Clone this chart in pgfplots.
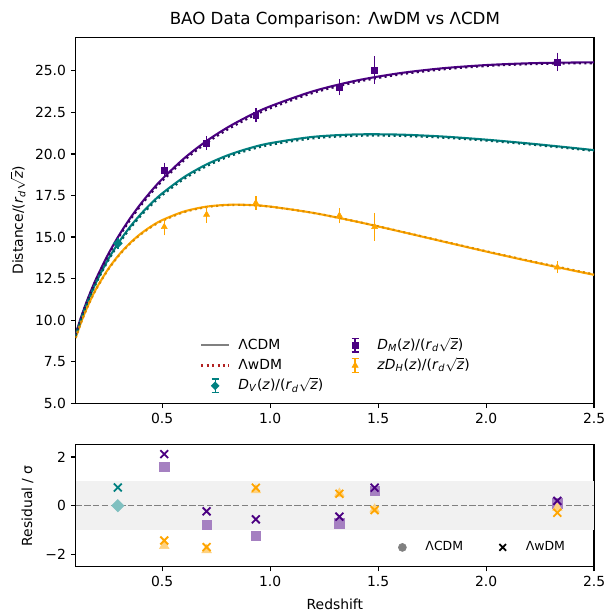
\documentclass[border=0pt]{standalone}
\usepackage{fontspec}
\setmainfont{DejaVu Sans}
\usepackage{pgfplots}
\usepackage{pgfplotstable}
\pgfplotsset{compat=1.18}
\definecolor{cind}{HTML}{4B0082}
\definecolor{cteal}{HTML}{008080}
\definecolor{corange}{HTML}{FFA500}
\definecolor{lind}{HTML}{A580C1}
\definecolor{lteal}{HTML}{80C0C0}
\definecolor{lorange}{HTML}{FFD280}
\definecolor{wred}{HTML}{B22222}
\definecolor{band}{HTML}{F1F1F1}
\definecolor{mgray}{HTML}{808080}
\newcommand{\sqz}{\ensuremath{\sqrt{\mbox{\itshape z}}}}
\newcommand{\lab}[2]{#1\textit{D}\textsubscript{\textit{#2}}(\textit{z})/(\textit{r}\textsubscript{\textit{d}}\sqz)}

\pgfplotstableread{
z dm dv dh dmw dvw dhw
0.100 9.158 9.085 8.940 9.128 9.055 8.920
0.125 10.178 10.074 9.871 10.141 10.034 9.849
0.150 11.082 10.945 10.676 11.037 10.895 10.651
0.175 11.896 11.723 11.382 11.844 11.666 11.355
0.200 12.639 12.426 12.009 12.579 12.361 11.979
0.250 13.954 13.653 13.069 13.879 13.573 13.034
0.300 15.092 14.693 13.926 15.002 14.593 13.886
0.350 16.091 15.587 14.622 15.991 15.487 14.580
0.400 16.978 16.360 15.189 16.868 16.255 15.144
0.450 17.771 17.034 15.648 17.656 16.924 15.603
0.500 18.485 17.622 16.016 18.365 17.512 15.971
0.600 19.713 18.590 16.531 19.593 18.480 16.491
0.700 20.727 19.333 16.819 20.607 19.223 16.789
0.800 21.571 19.901 16.939 21.446 19.801 16.919
0.900 22.275 20.329 16.933 22.145 20.229 16.923
1.000 22.865 20.647 16.834 22.745 20.547 16.829
1.200 23.777 21.031 16.453 23.677 20.941 16.453
1.400 24.417 21.177 15.929 24.327 21.092 15.934
1.600 24.861 21.165 15.341 24.781 21.085 15.351
1.800 25.159 21.049 14.733 25.089 20.979 14.748
2.000 25.349 20.862 14.130 25.289 20.802 14.150
2.200 25.458 20.630 13.548 25.403 20.575 13.573
2.400 25.503 20.368 12.992 25.453 20.318 13.024
2.500 25.508 20.231 12.726 25.458 20.181 12.761
}\curves

\pgfplotsset{
  mpl/.style={
    scale only axis, width=373.2pt,
    xmin=0.1, xmax=2.5,
    axis line style={line width=0.8pt, black},
    tick style={line width=0.8pt, black},
    major tick length=3.5pt, tick align=outside,
    xtick pos=left, ytick pos=left,
    ticklabel style={font=\fontsize{10}{12}\selectfont},
    label style={font=\fontsize{10}{12}\selectfont},
    xtick={0.5,1,1.5,2,2.5}, xticklabels={0.5,1.0,1.5,2.0,2.5},
  },
  ebar/.style={only marks, forget plot, color=#1, line width=1pt,
    mark options={line width=0.4pt},
    error bars/y dir=both, error bars/y explicit, error bars/error mark=-,
    error bars/error bar style={line width=1pt, color=#1},
    error bars/error mark options={line width=1pt, mark size=2.5pt, color=#1}},
}

\begin{document}
\begin{tikzpicture}
\useasboundingbox (-54.5pt,-149.6pt) rectangle (383.3pt,290.3pt);
\begin{axis}[mpl,
  at={(0pt,0pt)}, anchor=south west, height=263.2pt,
  ymin=5, ymax=27,
  ytick={5,7.5,10,12.5,15,17.5,20,22.5,25},
  yticklabels={5.0,7.5,10.0,12.5,15.0,17.5,20.0,22.5,25.0},
  ylabel={Distance/(\textit{r}\textsubscript{\textit{d}}\sqz)},
  ylabel style={at={(axis description cs:-0.111,0.5)}, anchor=center},
  title={BAO Data Comparison: ΛwDM vs ΛCDM},
  title style={font=\fontsize{12}{14}\selectfont, at={(axis description cs:0.5,1)}, anchor=base, yshift=3.5pt},
  legend style={at={(axis cs:0.6755,9.07)}, anchor=north west, draw=none, fill=none,
    inner sep=0pt, font=\fontsize{10}{12}\selectfont,
    cells={anchor=west},
    nodes={inner xsep=0pt, inner ysep=1pt, text height=8.5pt, text depth=3pt},
    row sep=1.1pt,
    /tikz/every odd column/.style={column sep=6pt},
    /tikz/every even column/.style={column sep=13pt}},
  legend columns=2,
]
% LCDM curves
\addplot[forget plot, smooth, cind, line width=1.5pt] table[x=z, y=dm] {\curves};
\addplot[forget plot, smooth, cteal, line width=1.5pt] table[x=z, y=dv] {\curves};
\addplot[forget plot, smooth, corange, line width=1.5pt] table[x=z, y=dh] {\curves};
% LwDM curves
\addplot[forget plot, smooth, cind!75!black, line width=1.5pt, dash pattern=on 1.5pt off 2.4pt] table[x=z, y=dmw] {\curves};
\addplot[forget plot, smooth, cteal!75!black, line width=1.5pt, dash pattern=on 1.5pt off 2.4pt] table[x=z, y=dvw] {\curves};
\addplot[forget plot, smooth, corange!85!black, line width=1.5pt, dash pattern=on 1.5pt off 2.4pt] table[x=z, y=dhw] {\curves};
% data
\addplot[ebar=cteal, mark=square*, mark options={rotate=45}, mark size=2pt] coordinates {
 (0.295,14.62) +- (0,0.138)};
\addplot[ebar=cind, mark=square*, mark size=2.1pt] coordinates {
 (0.510,19.03) +- (0,0.234)
 (0.706,20.65) +- (0,0.214)
 (0.934,22.33) +- (0,0.216)
 (1.321,24.01) +- (0,0.277)
 (1.484,25.05) +- (0,0.624)
 (2.330,25.54) +- (0,0.348)};
\addplot[ebar=corange, mark=triangle*, mark size=2.5pt] coordinates {
 (0.510,15.61) +- (0,0.303)
 (0.706,16.35) +- (0,0.277)
 (0.934,17.05) +- (0,0.194)
 (1.321,16.29) +- (0,0.254)
 (1.484,15.61) +- (0,0.631)
 (2.330,13.18) +- (0,0.154)};
% legend (matplotlib column-first order)
\addlegendimage{legend image code/.code={\draw[mgray, line width=1.5pt] (0pt,0pt) -- (20pt,0pt);}}
\addlegendentry{ΛCDM}
\addlegendimage{legend image code/.code={\path[draw=none] (0pt,0pt) -- (20pt,0pt);
  \draw[cind, line width=1pt] (10pt,-5pt) -- (10pt,5pt) (7.5pt,-5pt) -- (12.5pt,-5pt) (7.5pt,5pt) -- (12.5pt,5pt);
  \path[draw=none, mark=square*, mark size=2.1pt, mark options={draw=cind, fill=cind, line width=0.4pt}] plot coordinates {(10pt,0pt)};}}
\addlegendentry{\lab{}{M}}
\addlegendimage{legend image code/.code={\draw[wred, line width=1.5pt, dash pattern=on 1.5pt off 2.4pt] (0pt,0pt) -- (20pt,0pt);}}
\addlegendentry{ΛwDM}
\addlegendimage{legend image code/.code={\path[draw=none] (0pt,0pt) -- (20pt,0pt);
  \draw[corange, line width=1pt] (10pt,-5pt) -- (10pt,5pt) (7.5pt,-5pt) -- (12.5pt,-5pt) (7.5pt,5pt) -- (12.5pt,5pt);
  \path[draw=none, mark=triangle*, mark size=2.5pt, mark options={draw=corange, fill=corange, line width=0.4pt}] plot coordinates {(10pt,0pt)};}}
\addlegendentry{\lab{\textit{z}}{H}}
\addlegendimage{legend image code/.code={\path[draw=none] (0pt,0pt) -- (20pt,0pt);
  \draw[cteal, line width=1pt] (10pt,-5pt) -- (10pt,5pt) (7.5pt,-5pt) -- (12.5pt,-5pt) (7.5pt,5pt) -- (12.5pt,5pt);
  \path[draw=none, mark=square*, mark size=2pt, mark options={rotate=45, draw=cteal, fill=cteal, line width=0.4pt}] plot coordinates {(10pt,0pt)};}}
\addlegendentry{\lab{}{V}}
\end{axis}

\begin{axis}[mpl,
  at={(0pt,-30pt)}, anchor=north west, height=87.6pt,
  ymin=-2.5, ymax=2.5,
  ytick={-2,0,2}, yticklabels={−2,0,2},
  xlabel={Redshift},
  xlabel style={at={(axis description cs:0.5,-0.307)}, anchor=center},
  ylabel={Residual / σ},
  ylabel style={at={(axis description cs:-0.093,0.5)}, anchor=center},
  legend style={at={(axis cs:1.5535,-1.36)}, anchor=north west, draw=none, fill=none,
    inner sep=0pt, font=\fontsize{9}{11}\selectfont,
    cells={anchor=west},
    nodes={inner xsep=0pt, inner ysep=1pt, text height=7.5pt, text depth=2.5pt},
    /tikz/every odd column/.style={column sep=7.6pt},
    /tikz/every even column/.style={column sep=19.5pt}},
  legend columns=2,
]
\addplot[forget plot, draw=none, fill=band] coordinates {(0.1,-1) (2.5,-1) (2.5,1) (0.1,1)} -- cycle;
\addplot[forget plot, mgray, line width=1pt, dash pattern=on 4.4pt off 1.9pt] coordinates {(0.1,0) (2.5,0)};
% LCDM residuals
\addplot[forget plot, only marks, mark=square*, mark size=2.1pt, color=lteal, mark options={rotate=45, scale=1.5}] coordinates {(0.295,0)};
\addplot[forget plot, only marks, mark=square*, mark size=3.4pt, color=lind] coordinates {
 (0.510,1.60) (0.706,-0.78) (0.934,-1.24) (1.321,-0.72) (1.484,0.62) (2.330,0.10)};
\addplot[forget plot, only marks, mark=triangle*, mark size=4pt, color=lorange] coordinates {
 (0.510,-1.65) (0.706,-1.82) (0.934,0.64) (1.321,0.50) (1.484,-0.15) (2.330,-0.08)};
% LwDM residuals
\addplot[forget plot, only marks, mark=x, mark size=4pt, line width=1.3pt, color=cteal] coordinates {(0.295,0.75)};
\addplot[forget plot, only marks, mark=x, mark size=4pt, line width=1.3pt, color=cind] coordinates {
 (0.510,2.12) (0.706,-0.23) (0.934,-0.56) (1.321,-0.45) (1.484,0.74) (2.330,0.20)};
\addplot[forget plot, only marks, mark=x, mark size=4pt, line width=1.3pt, color=corange] coordinates {
 (0.510,-1.43) (0.706,-1.70) (0.934,0.74) (1.321,0.49) (1.484,-0.18) (2.330,-0.29)};
\addlegendimage{legend image code/.code={\path[draw=none] (0pt,0pt) -- (18pt,0pt);
  \path[draw=none, mark=*, mark size=2.9pt, mark options={draw=mgray, fill=mgray, line width=0.4pt}] plot coordinates {(9pt,0pt)};}}
\addlegendentry{ΛCDM}
\addlegendimage{legend image code/.code={\path[draw=none] (0pt,0pt) -- (18pt,0pt);
  \path[draw=none, mark=x, mark size=3.4pt, mark options={draw=black, line width=1.3pt}] plot coordinates {(9pt,0pt)};}}
\addlegendentry{ΛwDM}
\end{axis}
\end{tikzpicture}
\end{document}
